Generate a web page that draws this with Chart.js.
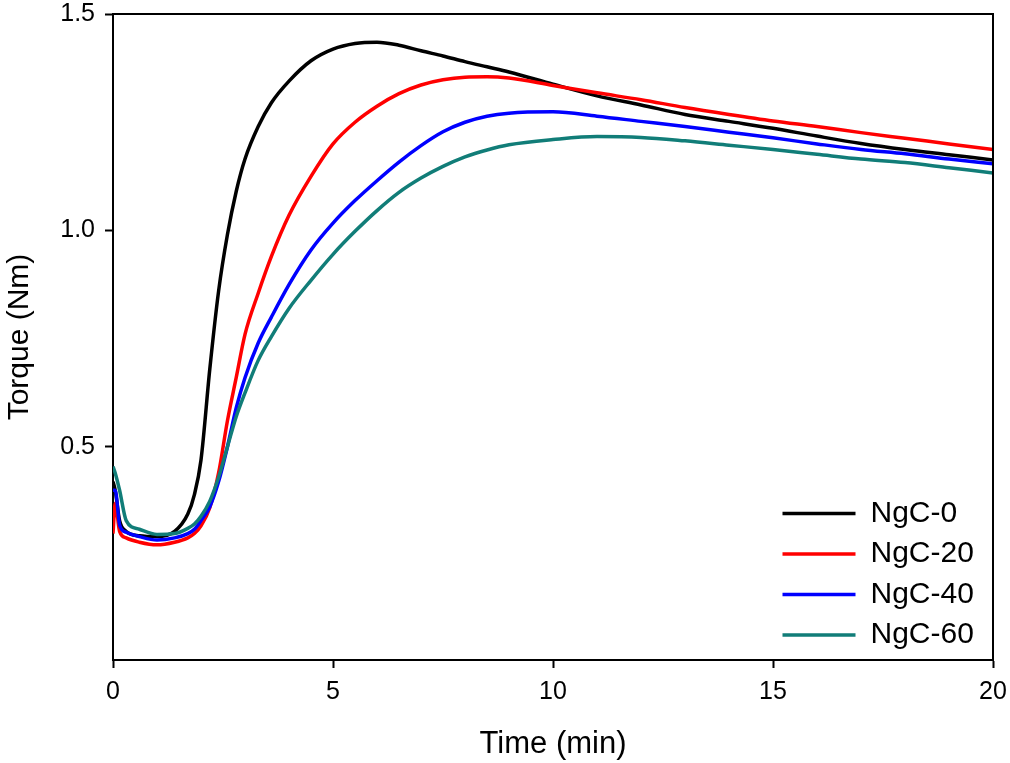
<!DOCTYPE html>
<html>
<head>
<meta charset="utf-8">
<script src="https://cdn.jsdelivr.net/npm/chart.js@4.4.1/dist/chart.umd.min.js"></script>
<style>
  html, body { margin: 0; padding: 0; background: #ffffff; }
  #wrap { width: 1010px; height: 763px; position: relative; }
</style>
</head>
<body>
<div id="wrap"><canvas id="c" width="1010" height="763"></canvas></div>
<script>
// ---- data ----
const timeMin = [0, 0.05, 0.15, 0.3, 0.6, 1, 1.4, 1.7, 1.85, 2, 2.2, 2.4, 2.6, 2.8, 3, 3.3, 3.6, 4, 4.5, 5, 5.5, 6, 6.5, 7, 7.5, 8, 8.5, 9, 10, 11, 12, 13, 14, 15, 16, 17, 18, 19, 20];

const ngc0 = [0.42, 0.40, 0.33, 0.305, 0.295, 0.293, 0.305, 0.345, 0.39, 0.47, 0.68, 0.86, 0.99, 1.09, 1.165, 1.24, 1.295, 1.345, 1.392, 1.419, 1.432, 1.435, 1.428, 1.415, 1.403, 1.39, 1.378, 1.366, 1.338, 1.311, 1.29, 1.268, 1.252, 1.236, 1.218, 1.201, 1.187, 1.175, 1.163];

const ngc20 = [0.30, 0.37, 0.305, 0.29, 0.28, 0.274, 0.28, 0.29, 0.30, 0.318, 0.36, 0.44, 0.56, 0.66, 0.76, 0.855, 0.94, 1.035, 1.125, 1.2, 1.25, 1.287, 1.316, 1.336, 1.348, 1.354, 1.355, 1.352, 1.335, 1.318, 1.302, 1.284, 1.268, 1.253, 1.24, 1.226, 1.213, 1.2, 1.187];

const ngc40 = [0.40, 0.40, 0.32, 0.303, 0.293, 0.285, 0.29, 0.30, 0.31, 0.33, 0.362, 0.42, 0.50, 0.59, 0.66, 0.74, 0.80, 0.875, 0.955, 1.017, 1.069, 1.115, 1.158, 1.196, 1.228, 1.25, 1.264, 1.271, 1.274, 1.264, 1.252, 1.24, 1.227, 1.214, 1.2, 1.187, 1.177, 1.165, 1.154];

const ngc60 = [0.455, 0.44, 0.40, 0.33, 0.31, 0.298, 0.30, 0.312, 0.322, 0.34, 0.375, 0.43, 0.50, 0.57, 0.625, 0.70, 0.755, 0.82, 0.885, 0.945, 0.998, 1.046, 1.088, 1.121, 1.148, 1.17, 1.186, 1.198, 1.21, 1.217, 1.215, 1.207, 1.197, 1.187, 1.176, 1.165, 1.157, 1.145, 1.133];

const seriesNames = ['NgC-0', 'NgC-20', 'NgC-40', 'NgC-60'];
const seriesColors = ['#000000', '#ff0000', '#0000ff', '#117d78'];
const xTickValues = [0, 5, 10, 15, 20];
const yTickValues = [0.5, 1.0, 1.5];
const xTitle = 'Time (min)';
const yTitle = 'Torque (Nm)';

// ---- chart ----
Chart.defaults.font.family = "'Liberation Sans', Arial, sans-serif";
Chart.defaults.color = '#000000';

const allSeries = [ngc0, ngc20, ngc40, ngc60];
const datasets = allSeries.map((vals, i) => ({
  label: seriesNames[i],
  data: timeMin.map((t, j) => ({ x: t, y: vals[j] })),
  borderColor: seriesColors[i],
  backgroundColor: seriesColors[i],
  borderWidth: 3.5,
  pointRadius: 0,
  fill: false,
  cubicInterpolationMode: 'monotone',
  order: allSeries.length - 1 - i
}));

const framePlugin = {
  id: 'frame',
  beforeDraw(chart) {
    const lg = chart.legend;
    if (lg) {
      lg.left = 772;
      lg.top = 488;
      lg.right = 1008;
      lg.bottom = 762;
      lg.width = lg.right - lg.left;
      lg.height = lg.bottom - lg.top;
    }
  },
  afterDatasetsDraw(chart) {
    const a = chart.chartArea;
    const ctx = chart.ctx;
    ctx.save();
    ctx.strokeStyle = '#000000';
    ctx.lineWidth = 2;
    ctx.beginPath();
    ctx.moveTo(a.left, a.top);
    ctx.lineTo(a.right, a.top);
    ctx.lineTo(a.right, a.bottom);
    ctx.stroke();
    ctx.restore();
  }
};

function clearScalePadding(s) {
  s.paddingTop = 0;
  s.paddingBottom = 0;
  s.paddingLeft = 0;
  s.paddingRight = 0;
}

new Chart(document.getElementById('c'), {
  type: 'line',
  data: { datasets },
  plugins: [framePlugin],
  options: {
    responsive: false,
    animation: false,
    devicePixelRatio: 1,
    layout: { padding: { top: 14, right: 17, bottom: 0, left: 0 } },
    plugins: {
      tooltip: { enabled: false },
      legend: {
        position: 'chartArea',
        align: 'start',
        labels: {
          usePointStyle: true,
          pointStyle: 'line',
          pointStyleWidth: 73,
          boxWidth: 73,
          padding: 10.5,
          color: '#000000',
          font: { size: 30 },
          sort: (a, b) => a.datasetIndex - b.datasetIndex
        }
      }
    },
    scales: {
      x: {
        type: 'linear',
        min: 0,
        max: 20,
        afterBuildTicks: (s) => { s.ticks = xTickValues.map(v => ({ value: v })); },
        afterFit: (s) => { s.height = 103; clearScalePadding(s); },
        border: { display: true, color: '#000000', width: 2 },
        grid: { display: true, drawOnChartArea: false, drawTicks: true, tickLength: 8, tickWidth: 2, tickColor: '#000000' },
        ticks: { padding: 12, color: '#000000', maxRotation: 0, font: { size: 25, lineHeight: 1 }, callback: (v) => String(v) },
        title: { display: true, text: xTitle, color: '#000000', font: { size: 31 }, padding: { top: 0, bottom: 0 } }
      },
      y: {
        type: 'linear',
        min: 0.008,
        max: 1.5,
        afterBuildTicks: (s) => { s.ticks = yTickValues.map(v => ({ value: v })); },
        afterFit: (s) => { s.width = 113; clearScalePadding(s); },
        border: { display: true, color: '#000000', width: 2 },
        grid: { display: true, drawOnChartArea: false, drawTicks: true, tickLength: 8, tickWidth: 2, tickColor: '#000000' },
        ticks: { padding: 10, color: '#000000', font: { size: 25, lineHeight: 1 }, callback: (v) => Number(v).toFixed(1) },
        title: { display: true, text: yTitle, color: '#000000', font: { size: 30 }, padding: { top: 2, bottom: 0 } }
      }
    }
  }
});
</script>
</body>
</html>
